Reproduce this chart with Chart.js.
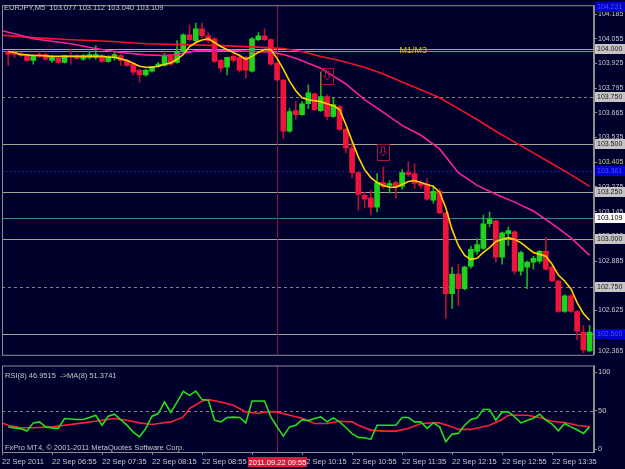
<!DOCTYPE html>
<html>
<head>
<meta charset="utf-8">
<title>EURJPY,M5</title>
<script src="https://cdn.jsdelivr.net/npm/chart.js@4.4.1/dist/chart.umd.min.js"></script>
<style>
  body { margin: 0; background: #00002c; }
  #wrap { position: relative; width: 625px; height: 469px; background: #00002c; overflow: hidden; }
  canvas { position: absolute; left: 0; }
  #main { top: 0; }
  #osc { top: 360px; }
</style>
</head>
<body>
<div id="wrap">
  <canvas id="main" width="625" height="360"></canvas>
  <canvas id="osc" width="625" height="109"></canvas>
</div>
<script>
// EURJPY M5 candles
const opens = [
  103.988,103.983,103.978,103.967,103.941,103.972,103.972,103.941,103.952,103.931,
  103.967,103.967,103.947,103.957,103.957,103.967,103.936,103.957,103.967,103.941,
  103.921,103.889,103.864,103.884,103.910,103.915,103.962,103.931,103.988,104.076,
  104.045,104.107,104.071,104.055,103.941,103.905,103.962,103.957,103.957,103.884,
  104.050,104.071,104.050,103.926,103.838,103.568,103.677,103.656,103.713,103.765,
  103.677,103.750,103.646,103.698,103.578,103.480,103.350,103.231,103.216,103.169,
  103.298,103.283,103.298,103.278,103.350,103.345,103.293,103.288,103.205,103.252,
  103.138,102.713,102.816,102.739,102.858,102.936,102.951,103.081,103.096,102.905,
  103.029,103.039,102.832,102.853,102.879,102.884,102.936,102.853,102.780,102.619,
  102.702,102.619,102.511,102.412
];
const highs = [
  103.993,103.993,103.983,103.972,103.972,103.988,103.978,103.967,103.957,103.967,
  103.998,103.972,103.972,103.988,104.019,103.972,103.967,103.983,103.972,103.947,
  103.926,103.895,103.895,103.910,103.931,103.978,103.967,104.045,104.081,104.128,
  104.138,104.138,104.087,104.061,103.947,103.957,103.972,103.972,103.962,104.061,
  104.087,104.107,104.055,103.931,103.843,103.687,103.724,103.724,103.812,103.770,
  103.879,103.760,103.744,103.703,103.584,103.506,103.356,103.247,103.257,103.345,
  103.381,103.309,103.304,103.366,103.407,103.397,103.309,103.319,103.283,103.267,
  103.143,102.853,102.868,102.858,102.962,103.003,103.127,103.143,103.102,103.039,
  103.065,103.045,102.936,102.884,102.910,102.941,103.008,102.858,102.785,102.708,
  102.708,102.625,102.547,102.547
];
const lows = [
  103.915,103.957,103.962,103.936,103.921,103.957,103.941,103.931,103.926,103.926,
  103.921,103.947,103.941,103.947,103.947,103.931,103.931,103.941,103.915,103.910,
  103.864,103.827,103.858,103.879,103.905,103.910,103.915,103.926,103.983,104.045,
  104.040,104.061,104.035,103.931,103.879,103.864,103.931,103.879,103.848,103.879,
  104.045,104.045,103.915,103.832,103.532,103.563,103.630,103.651,103.687,103.677,
  103.672,103.630,103.641,103.573,103.454,103.324,103.153,103.164,103.127,103.143,
  103.267,103.242,103.216,103.262,103.330,103.267,103.267,103.205,103.190,103.133,
  102.583,102.635,102.651,102.733,102.847,102.920,102.946,103.065,102.879,102.868,
  102.967,102.816,102.811,102.739,102.842,102.873,102.837,102.775,102.614,102.614,
  102.614,102.469,102.402,102.407
];
const closes = [
  103.972,103.972,103.967,103.941,103.967,103.962,103.947,103.957,103.931,103.967,
  103.962,103.952,103.967,103.972,103.972,103.936,103.962,103.972,103.941,103.915,
  103.879,103.864,103.889,103.910,103.921,103.967,103.921,103.988,104.076,104.050,
  104.107,104.071,104.045,103.936,103.900,103.957,103.941,103.889,103.889,104.055,
  104.071,104.050,103.921,103.838,103.568,103.672,103.656,103.713,103.770,103.682,
  103.750,103.646,103.708,103.578,103.480,103.350,103.236,103.210,103.169,103.298,
  103.278,103.293,103.278,103.350,103.340,103.293,103.283,103.210,103.252,103.138,
  102.713,102.816,102.739,102.853,102.946,102.972,103.081,103.107,102.905,103.034,
  103.045,102.832,102.930,102.879,102.899,102.936,102.842,102.780,102.619,102.702,
  102.619,102.516,102.417,102.511
];

// yellow fast MA, one value per bar
const fastMa = [
  103.988,103.983,103.972,103.970,103.967,103.967,103.965,103.962,103.962,103.962,
  103.962,103.962,103.962,103.962,103.962,103.962,103.959,103.957,103.949,103.941,
  103.926,103.910,103.905,103.905,103.910,103.921,103.928,103.947,103.972,104.014,
  104.035,104.048,104.055,104.035,104.014,103.998,103.983,103.967,103.947,103.962,
  103.983,103.998,103.998,103.952,103.895,103.832,103.781,103.744,103.734,103.729,
  103.724,103.713,103.703,103.682,103.604,103.516,103.433,103.366,103.324,103.298,
  103.283,103.273,103.273,103.288,103.304,103.309,103.298,103.288,103.278,103.247,
  103.164,103.050,102.967,102.915,102.894,102.899,102.930,102.956,102.988,102.998,
  103.008,102.998,102.982,102.956,102.930,102.920,102.910,102.868,102.811,102.780,
  102.739,102.666,102.609,102.573
];
// pink MA, read at these bars
const midMaBars = [-1,1,4,7,10,14,18,22,25,27,30,33,36,39,42,44,46,48,50,52,54,57,60,63,66,69,72,75,78,81,84,87,90,93];
const midMa = [104.097,104.081,104.055,104.042,104.029,104.004,103.983,103.970,103.967,103.972,
  103.991,103.993,103.993,103.988,103.985,103.972,103.952,103.926,103.900,103.858,
  103.817,103.734,103.667,103.599,103.547,103.475,103.350,103.283,103.236,103.195,
  103.148,103.081,103.008,102.915];
// red slow MA
const slowMaBars = [-1,4,10,16,22,28,34,40,44,47,50,53,57,60,63,66,69,72,75,78,81,84,87,90,93];
const slowMa = [104.074,104.061,104.050,104.042,104.029,104.024,104.019,104.011,104.004,103.988,
  103.962,103.941,103.905,103.869,103.827,103.786,103.744,103.687,103.630,103.568,
  103.511,103.454,103.397,103.340,103.278];

// RSI(8) and its MA(8)
const rsi = [
  28.8,27.5,26.5,23.3,34.0,35.3,28.8,27.5,26.8,39.7,
  39.0,38.4,38.4,41.0,44.0,31.0,42.7,45.3,38.0,31.0,
  22.0,15.9,26.8,42.7,46.2,61.2,47.5,61.0,75.0,69.9,
  75.4,64.3,63.4,37.5,35.3,41.0,41.5,41.0,34.0,62.5,
  62.5,62.5,41.8,29.0,16.8,28.8,31.0,38.0,37.0,39.7,
  41.8,35.3,40.5,35.3,28.0,20.0,15.1,14.6,12.5,31.0,
  31.0,31.0,31.0,41.0,41.0,35.3,35.3,26.8,34.0,28.8,
  9.4,19.4,20.3,31.0,38.4,40.5,51.4,51.4,37.5,48.3,
  48.3,42.0,34.0,37.0,40.0,45.3,37.5,32.3,23.7,33.2,
  28.8,25.0,20.3,28.8
];
const rsiMaBars = [-1,0,2,4,7,9,12,15,17,19,21,23,24,26,28,29,31,32,34,36,38,40,41,43,45,47,49,51,53,55,
  56,58,60,62,64,66,68,69,71,72,74,77,79,80,83,85,87,89,91,93];
const rsiMa = [34.0,31.0,27.6,27.6,28.8,31.0,34.0,37.5,39.7,37.5,34.0,32.0,33.2,35.3,41.8,52.7,62.5,64.3,61.2,56.9,
  48.3,46.2,48.3,48.3,44.0,40.1,33.2,33.2,36.2,35.3,31.0,24.6,23.3,23.3,26.8,33.2,34.0,34.0,28.8,25.5,
  25.5,31.0,38.4,44.0,44.0,41.0,36.2,34.5,31.0,28.8];

// axis labels
const priceTicks = [104.185,104.055,103.925,103.795,103.665,103.535,103.405,103.275,103.145,103.015,102.885,102.755,102.625,102.495,102.365];
const rsiTicks = [0, 50, 100];
const timeTickBars = [-1,7,15,23,31,39,47,55,63,71,79,87];
const timeTickLabels = ['22 Sep 2011','22 Sep 06:55','22 Sep 07:35','22 Sep 08:15','22 Sep 08:55','22 Sep 09:35',
  '22 Sep 10:15','22 Sep 10:55','22 Sep 11:35','22 Sep 12:15','22 Sep 12:55','22 Sep 13:35'];

// horizontal lines, price tags, markers, crosshair
const levelPrices = [104.000, 103.988, 103.750, 103.500, 103.250, 103.109, 103.000, 102.750, 102.500];
const tagPrices = [104.221, 104.000, 103.750, 103.500, 103.361, 103.250, 103.109, 103.000, 102.750, 102.500];
const tagKinds = ['blue','gray','gray','gray','blue','gray','white','gray','gray','blue'];
const markerBars = [51, 60];
const markerPrices = [103.858, 103.459];
const crossBar = 43;
const crossPrice = 103.361;
const crossTime = '2011.09.22 09:55';
const headerText = 'EURJPY,M5  103.077 103.112 103.040 103.109';
const rsiText = 'RSI(8) 46.9515  ->MA(8) 51.3741';
const copyText = 'FxPro MT4, \u00a9 2001-2011 MetaQuotes Software Corp.';

// styles
const FONT = '"Liberation Sans", Arial, sans-serif';
const FRAME = '#8c8c8c';
const TXT = '#c8c8c8';
const levelColors = ['#b0a688','#c08a2a','#86867e','#a4a49c','#a4a49c','#2e8c7a','#a4a49c','#86867e','#a4a49c'];
const levelDashes = [[],[],[3,3],[],[],[],[],[3,3],[]];
const tagStyle = {
  gray:  { bg: '#c4c4c4', fg: '#202020' },
  white: { bg: '#ffffff', fg: '#000000' },
  blue:  { bg: '#0000d0', fg: '#5050ff' }
};
const XMIN = -1, XMAX = 93.7;

const bars = opens.map((_, i) => i);
const bull = bars.map(i => closes[i] >= opens[i]);

const mainDecor = {
  id: 'mainDecor',
  beforeDatasetsDraw(chart) {
    const { ctx, chartArea: a, scales: { x, y } } = chart;
    ctx.save();
    ctx.beginPath();
    ctx.rect(a.left, a.top, a.width, a.height);
    ctx.clip();
    ctx.lineWidth = 1;
    levelPrices.forEach((p, k) => {
      const py = Math.round(y.getPixelForValue(p)) + 0.5;
      ctx.strokeStyle = levelColors[k];
      ctx.setLineDash(levelDashes[k]);
      ctx.beginPath(); ctx.moveTo(a.left, py); ctx.lineTo(a.right, py); ctx.stroke();
    });
    // crosshair
    const cx = Math.round(x.getPixelForValue(crossBar)) + 0.5;
    ctx.setLineDash([]);
    ctx.strokeStyle = '#8c1038';
    ctx.beginPath(); ctx.moveTo(cx, a.top); ctx.lineTo(cx, a.bottom); ctx.stroke();
    const cy = Math.round(y.getPixelForValue(crossPrice)) + 0.5;
    ctx.strokeStyle = '#1c1cb4';
    ctx.setLineDash([2, 2]);
    ctx.beginPath(); ctx.moveTo(a.left, cy); ctx.lineTo(a.right, cy); ctx.stroke();
    ctx.restore();
  },
  afterDatasetsDraw(chart) {
    const { ctx, scales: { x, y } } = chart;
    ctx.save();
    ctx.strokeStyle = '#b0103c';
    ctx.lineWidth = 1;
    markerBars.forEach((b, k) => {
      const px = Math.round(x.getPixelForValue(b));
      const py = Math.round(y.getPixelForValue(markerPrices[k]));
      ctx.strokeRect(px - 6 + 0.5, py - 8 + 0.5, 12, 16);
      // down arrow
      ctx.beginPath();
      ctx.moveTo(px - 1.5, py - 5); ctx.lineTo(px + 1.5, py - 5); ctx.lineTo(px + 1.5, py);
      ctx.lineTo(px + 3.5, py); ctx.lineTo(px, py + 4); ctx.lineTo(px - 3.5, py);
      ctx.lineTo(px - 1.5, py); ctx.closePath();
      ctx.stroke();
    });
    ctx.restore();
  },
  afterDraw(chart) {
    const { ctx, chartArea: a, scales: { y } } = chart;
    ctx.save();
    ctx.strokeStyle = FRAME;
    ctx.lineWidth = 1;
    ctx.strokeRect(a.left + 0.5, a.top + 0.5, a.width - 1, a.height);
    ctx.font = '7.5px ' + FONT;
    ctx.textBaseline = 'middle';
    ctx.fillStyle = TXT;
    ctx.fillText(headerText, 4, 8);
    // line caption
    ctx.fillStyle = '#c8c000';
    ctx.font = '9px ' + FONT;
    ctx.fillText('M1/M3', chart.scales.x.getPixelForValue(62.6), y.getPixelForValue(levelPrices[0]) + 1);
    // lowest price label sits on the bottom edge
    ctx.font = '7px ' + FONT;
    ctx.fillStyle = TXT;
    ctx.fillText(priceTicks[priceTicks.length - 1].toFixed(3), a.right + 4, a.bottom - 4);
    // price tags
    tagPrices.forEach((p, k) => {
      const st = tagStyle[tagKinds[k]];
      const py = Math.round(y.getPixelForValue(p));
      ctx.fillStyle = st.bg;
      ctx.fillRect(a.right + 1, py - 5, 30, 10);
      ctx.fillStyle = st.fg;
      ctx.fillText(p.toFixed(3), a.right + 3, py + 0.5);
    });
    ctx.restore();
  }
};

new Chart(document.getElementById('main'), {
  type: 'bar',
  data: {
    datasets: [
      { type: 'line', label: 'fast MA', data: bars.map(i => ({ x: i, y: fastMa[i] })),
        borderColor: '#ffd200', borderWidth: 1.6, pointRadius: 0, order: 0 },
      { type: 'line', label: 'mid MA', data: midMaBars.map((b, k) => ({ x: b, y: midMa[k] })),
        borderColor: '#ff1e9a', borderWidth: 1.6, pointRadius: 0, order: 1 },
      { type: 'line', label: 'slow MA', data: slowMaBars.map((b, k) => ({ x: b, y: slowMa[k] })),
        borderColor: '#f01428', borderWidth: 1.6, pointRadius: 0, order: 1 },
      { label: 'bodies', data: bars.map(i => ({ x: i, y: [opens[i], closes[i]] })),
        backgroundColor: bars.map(i => bull[i] ? '#1ed21e' : '#f0143c'),
        barThickness: 5, grouped: false, order: 2 },
      { label: 'wicks', data: bars.map(i => ({ x: i, y: [lows[i], highs[i]] })),
        backgroundColor: bars.map(i => bull[i] ? '#1cb01c' : '#b80f30'),
        barThickness: 1, grouped: false, order: 3 }
    ]
  },
  options: {
    responsive: false,
    animation: false,
    events: [],
    layout: { padding: { left: 2, top: 2, right: 0, bottom: 3 } },
    plugins: { legend: { display: false }, tooltip: { enabled: false } },
    scales: {
      x: { type: 'linear', min: XMIN, max: XMAX, offset: false, display: false },
      y: {
        position: 'right',
        min: 102.3913, max: 104.2316,
        beginAtZero: false,
        afterBuildTicks: s => { s.ticks = priceTicks.filter(v => v >= s.min && v <= s.max).map(v => ({ value: v })); },
        afterFit: s => { s.width = 31; },
        ticks: { autoSkip: false, padding: 1, color: TXT, font: { family: FONT, size: 7 },
          callback: v => Number(v).toFixed(3) },
        grid: { drawOnChartArea: false, tickLength: 3, color: FRAME },
        border: { color: FRAME }
      }
    }
  },
  plugins: [mainDecor]
});

const oscDecor = {
  id: 'oscDecor',
  beforeDatasetsDraw(chart) {
    const { ctx, chartArea: a, scales: { x, y } } = chart;
    ctx.save();
    ctx.lineWidth = 1;
    const py = Math.round(y.getPixelForValue(50)) + 0.5;
    ctx.strokeStyle = '#86867e';
    ctx.setLineDash([3, 3]);
    ctx.beginPath(); ctx.moveTo(a.left, py); ctx.lineTo(a.right, py); ctx.stroke();
    ctx.setLineDash([]);
    const cx = Math.round(x.getPixelForValue(crossBar)) + 0.5;
    ctx.strokeStyle = '#8c1038';
    ctx.beginPath(); ctx.moveTo(cx, a.top); ctx.lineTo(cx, a.bottom); ctx.stroke();
    ctx.restore();
  },
  afterDraw(chart) {
    const { ctx, chartArea: a, scales: { x } } = chart;
    ctx.save();
    ctx.strokeStyle = FRAME;
    ctx.lineWidth = 1;
    ctx.strokeRect(a.left + 0.5, a.top + 0.5, a.width - 1, a.height);
    ctx.font = '7.5px ' + FONT;
    ctx.textBaseline = 'middle';
    ctx.fillStyle = TXT;
    ctx.fillText(rsiText, 5, a.top + 10);
    ctx.fillText(copyText, 5, a.bottom - 4);
    // crosshair time box
    const cx = Math.round(x.getPixelForValue(crossBar));
    ctx.fillStyle = '#e8143c';
    ctx.fillRect(cx - 29, a.bottom + 5, 59, 10);
    ctx.fillStyle = '#ffffff';
    ctx.textAlign = 'center';
    ctx.fillText(crossTime, cx + 0.5, a.bottom + 10.5);
    ctx.restore();
  }
};

new Chart(document.getElementById('osc'), {
  type: 'line',
  data: {
    datasets: [
      { label: 'RSI(8)', data: bars.map(i => ({ x: i, y: rsi[i] })),
        borderColor: '#22e01a', borderWidth: 1.6, pointRadius: 0 },
      { label: 'MA(8)', data: rsiMaBars.map((b, k) => ({ x: b, y: rsiMa[k] })),
        borderColor: '#ff1e3c', borderWidth: 1.6, pointRadius: 0 }
    ]
  },
  options: {
    responsive: false,
    animation: false,
    events: [],
    layout: { padding: { left: 2, top: 5, right: 0, bottom: 0 } },
    plugins: { legend: { display: false }, tooltip: { enabled: false } },
    scales: {
      x: {
        type: 'linear', min: XMIN, max: XMAX, offset: false,
        afterBuildTicks: s => { s.ticks = timeTickBars.map(v => ({ value: v })); },
        afterFit: s => { s.height = 17; },
        ticks: { autoSkip: false, maxRotation: 0, minRotation: 0, align: 'start', padding: 2,
          color: TXT, font: { family: FONT, size: 7.5 },
          callback: (v, k) => timeTickLabels[k] },
        grid: { drawOnChartArea: false, tickLength: 3, color: FRAME },
        border: { color: FRAME }
      },
      y: {
        position: 'right', min: -3.9, max: 108.7,
        afterBuildTicks: s => { s.ticks = rsiTicks.map(v => ({ value: v })); },
        afterFit: s => { s.width = 31; },
        ticks: { autoSkip: false, padding: 1, color: TXT, font: { family: FONT, size: 7.5 } },
        grid: { drawOnChartArea: false, tickLength: 3, color: FRAME },
        border: { color: FRAME }
      }
    }
  },
  plugins: [oscDecor]
});
</script>
</body>
</html>
